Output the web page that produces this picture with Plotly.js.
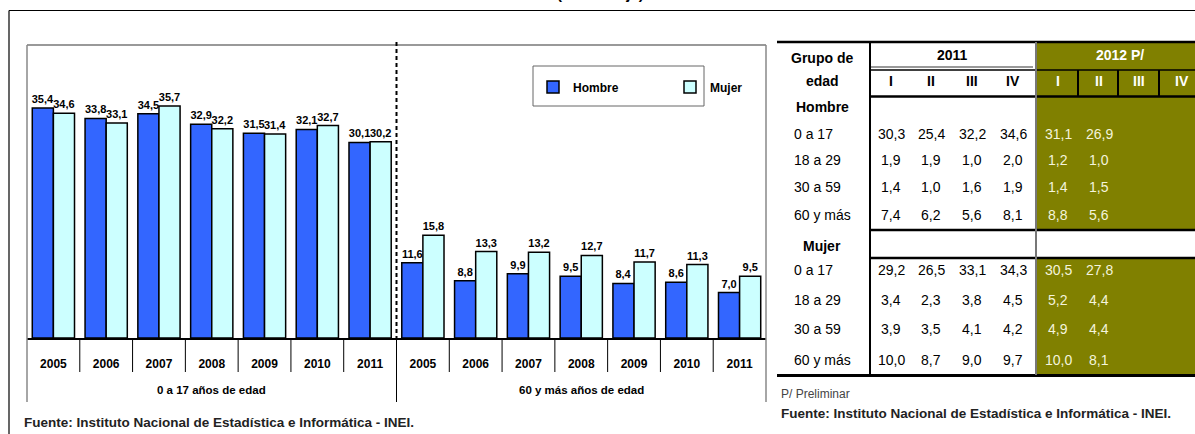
<!DOCTYPE html>
<html>
<head>
<meta charset="utf-8">
<script src="https://cdn.plot.ly/plotly-3.0.1.min.js"></script>
<style>html,body{margin:0;padding:0;background:#fff;}#chart{width:1195px;height:434px;}</style>
</head>
<body>
<div id="chart"></div>
<script>
// ---------- data ----------
const groups = ['0 a 17 años de edad', '60 y más años de edad'];
const years = ['2005', '2006', '2007', '2008', '2009', '2010', '2011'];
const hombre0a17 = [35.4, 33.8, 34.5, 32.9, 31.5, 32.1, 30.1];
const mujer0a17  = [34.6, 33.1, 35.7, 32.2, 31.4, 32.7, 30.2];
const hombre60   = [11.6, 8.8, 9.9, 9.5, 8.4, 8.6, 7.0];
const mujer60    = [15.8, 13.3, 13.2, 12.7, 11.7, 11.3, 9.5];

const tableTitle = 'Grupo de';
const quarters = ['I', 'II', 'III', 'IV'];
const tableYears = ['2011', '2012 P/'];
const rowLabels = ['0 a 17', '18 a 29', '30 a 59', '60 y más'];
const hombre2011 = [[30.3, 25.4, 32.2, 34.6], [1.9, 1.9, 1.0, 2.0], [1.4, 1.0, 1.6, 1.9], [7.4, 6.2, 5.6, 8.1]];
const hombre2012 = [[31.1, 26.9], [1.2, 1.0], [1.4, 1.5], [8.8, 5.6]];
const mujer2011  = [[29.2, 26.5, 33.1, 34.3], [3.4, 2.3, 3.8, 4.5], [3.9, 3.5, 4.1, 4.2], [10.0, 8.7, 9.0, 9.7]];
const mujer2012  = [[30.5, 27.8], [5.2, 4.4], [4.9, 4.4], [10.0, 8.1]];

// ---------- helpers ----------
const W = 1195, H = 434;
const X = px => px / W;
const Y = py => 1 - py / H;
const FONT = "'Liberation Sans', Arial, sans-serif";
const fmt = v => v.toFixed(1).replace('.', ',');

const yearsAll = years.concat(years);
const idx = yearsAll.map((_, i) => i);
const hombreAll = hombre0a17.concat(hombre60);
const mujerAll = mujer0a17.concat(mujer60);

const barCommon = {
  type: 'bar',
  x: idx,
  texttemplate: '%{y:.1f}',
  textposition: 'outside',
  cliponaxis: false,
  constraintext: 'none',
  textfont: {family: FONT, size: 11, weight: 'bold', color: '#000'},
  hoverinfo: 'skip'
};
const traces = [
  Object.assign({}, barCommon, {name: 'Hombre', y: hombreAll, marker: {color: '#3366FF', line: {color: '#000', width: 1.5}}}),
  Object.assign({}, barCommon, {name: 'Mujer', y: mujerAll, marker: {color: '#CCFFFF', line: {color: '#000', width: 1.5}}})
];

const shapes = [];
const annotations = [];
function hline(x0, x1, y, color, width, dash) {
  shapes.push({type: 'line', xref: 'paper', yref: 'paper', x0: X(x0), x1: X(x1), y0: Y(y), y1: Y(y), line: {color, width, dash: dash || 'solid'}});
}
function vline(x, y0, y1, color, width, dash) {
  shapes.push({type: 'line', xref: 'paper', yref: 'paper', x0: X(x), x1: X(x), y0: Y(y0), y1: Y(y1), line: {color, width, dash: dash || 'solid'}});
}
function rect(x0, x1, y0, y1, fill) {
  shapes.push({type: 'rect', xref: 'paper', yref: 'paper', x0: X(x0), x1: X(x1), y0: Y(y0), y1: Y(y1), fillcolor: fill, line: {width: 0}, layer: 'below'});
}
function text(t, x, y, opts) {
  opts = opts || {};
  annotations.push({
    text: t, xref: 'paper', yref: 'paper', x: X(x), y: Y(y), showarrow: false,
    xanchor: opts.anchor || 'center', yanchor: 'middle',
    font: {family: FONT, size: opts.size || 14, color: opts.color || '#000', weight: opts.bold ? 'bold' : 'normal'}
  });
}

// outer frame (left + top)
hline(9, 1195, 10.5, '#000', 1.2);
vline(9, 10.5, 434, '#000', 1.2);

// plot frame
hline(27, 766, 45, '#999', 2);
vline(27, 45, 402, '#888', 1.5);
vline(766, 45, 402, '#888', 1.5);

// category separators under axis (axis coordinates)
const axisYpx = 338;
for (let i = 1; i < yearsAll.length; i++) {
  if (i === years.length) continue;
  shapes.push({type: 'line', xref: 'x', yref: 'paper', x0: i - 0.5, x1: i - 0.5, y0: Y(axisYpx), y1: Y(372), line: {color: '#000', width: 1}});
}
// group divider
const gb = years.length - 0.5;
shapes.push({type: 'line', xref: 'x', yref: 'paper', x0: gb, x1: gb, y0: Y(42), y1: Y(axisYpx), line: {color: '#000', width: 2, dash: '4px,3px'}});
shapes.push({type: 'line', xref: 'x', yref: 'paper', x0: gb, x1: gb, y0: Y(axisYpx), y1: Y(402), line: {color: '#000', width: 1}});

// group labels
groups.forEach((g, k) => {
  annotations.push({text: g, xref: 'x', yref: 'paper', x: k * years.length + (years.length - 1) / 2, y: Y(390),
    showarrow: false, xanchor: 'center', yanchor: 'middle', font: {family: FONT, size: 11.5, weight: 'bold', color: '#000'}});
});

// legend box
shapes.push({type: 'rect', xref: 'paper', yref: 'paper', x0: X(533), x1: X(704), y0: Y(66), y1: Y(106), line: {color: '#666', width: 1}, fillcolor: 'rgba(0,0,0,0)'});

// title (clipped at top)
text('(Porcentaje)', 600, -6, {size: 15, bold: true});

// source left
text('Fuente: Instituto Nacional de Estadística e Informática - INEI.', 22, 422, {anchor: 'left', size: 13.5, bold: true, color: '#222'});

// ---------- table ----------
const colX2011 = [891, 931, 972, 1013];
const colX2012 = [1058, 1099, 1139, 1182];
const olive = '#808000';
const cream = '#F4F4DC';
rect(1037, 1195, 42, 230, olive);
rect(1037, 1195, 258, 375, olive);
hline(777, 1195, 42, '#000', 2.5);
hline(870, 1033, 67, '#999', 2);
hline(870, 1195, 70, '#000', 1.5);
hline(870, 1195, 96.5, '#000', 2.5);
[1078, 1118, 1159].forEach(x => vline(x, 70, 96.5, '#000', 2));
hline(870, 1195, 230, '#000', 2.5);
hline(870, 1195, 258, '#000', 2.5);
hline(777, 1195, 375.5, '#000', 3);
vline(870, 42, 375, '#000', 2);
vline(1036, 42, 375, '#777', 2);

text(tableTitle, 822, 58, {bold: true});
text('edad', 822, 81, {bold: true});
text(tableYears[0], 952, 55, {bold: true});
text(tableYears[1], 1120, 55, {bold: true, color: '#fff'});
quarters.forEach((q, j) => {
  text(q, colX2011[j], 81, {bold: true});
  text(q, colX2012[j], 81, {bold: true, color: '#fff'});
});
text('Hombre', 822, 107, {bold: true});
text('Mujer', 822, 246, {bold: true});

const rowYH = [134, 160, 187, 215];
const rowYM = [270, 300, 329, 360];
rowLabels.forEach((lab, r) => {
  text(lab, 792, rowYH[r], {anchor: 'left'});
  text(lab, 792, rowYM[r], {anchor: 'left'});
  hombre2011[r].forEach((v, j) => text(fmt(v), colX2011[j], rowYH[r]));
  hombre2012[r].forEach((v, j) => text(fmt(v), colX2012[j], rowYH[r], {color: cream}));
  mujer2011[r].forEach((v, j) => text(fmt(v), colX2011[j], rowYM[r]));
  mujer2012[r].forEach((v, j) => text(fmt(v), colX2012[j], rowYM[r], {color: cream}));
});

text('P/ Preliminar', 779, 394, {anchor: 'left', size: 12, color: '#444'});
text('Fuente: Instituto Nacional de Estadística e Informática - INEI.', 779, 413, {anchor: 'left', size: 13.5, bold: true, color: '#222'});

const layout = {
  width: W, height: H,
  margin: {l: 0, r: 0, t: 0, b: 0},
  paper_bgcolor: '#fff', plot_bgcolor: '#fff',
  separators: ',.',
  barmode: 'group', bargap: 0.2, bargroupgap: 0,
  showlegend: true,
  legend: {orientation: 'h', x: X(533), y: Y(87), xanchor: 'left', yanchor: 'middle',
    entrywidth: 92, entrywidthmode: 'pixels', bgcolor: 'rgba(0,0,0,0)', borderwidth: 0,
    font: {family: FONT, size: 12, weight: 'bold', color: '#000'}},
  xaxis: {
    domain: [X(27), X(766)], range: [-0.5, yearsAll.length - 0.5],
    tickmode: 'array', tickvals: idx, ticktext: yearsAll,
    ticks: 'outside', ticklen: 14, tickcolor: 'rgba(0,0,0,0)',
    tickfont: {family: FONT, size: 12, weight: 'bold', color: '#000'},
    showline: true, linecolor: '#000', linewidth: 1.5,
    showgrid: false, zeroline: false, fixedrange: true
  },
  yaxis: {
    domain: [Y(338), Y(45)], range: [0, 45.1],
    visible: false, showgrid: false, zeroline: false, fixedrange: true
  },
  shapes, annotations
};
Plotly.newPlot('chart', traces, layout, {staticPlot: true, displayModeBar: false});
</script>
</body>
</html>
